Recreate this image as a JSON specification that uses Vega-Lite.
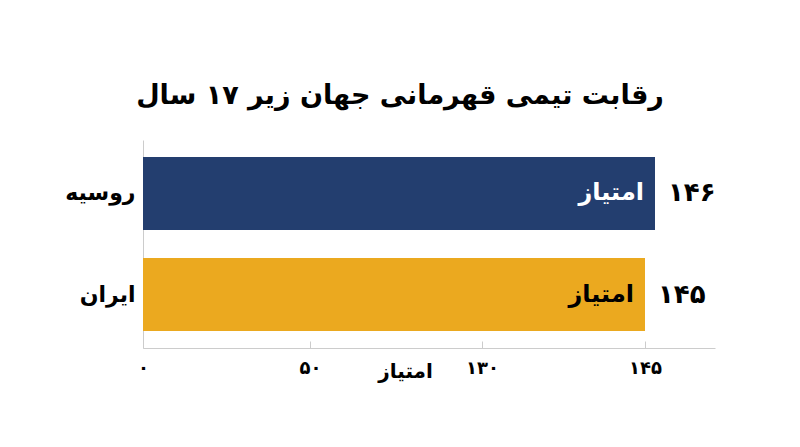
{
  "$schema": "https://vega.github.io/schema/vega-lite/v6.json",
  "description": "Team ranking, U17 world championship",
  "autosize": {"type": "none"},
  "padding": {"left": 143, "top": 140, "right": 85, "bottom": 99},
  "width": 572,
  "height": 208,
  "background": "white",
  "config": {
    "font": "DejaVu Sans",
    "view": {"stroke": null}
  },
  "title": {
    "text": "رقابت تیمی قهرمانی جهان زیر ۱۷ سال",
    "fontSize": 27,
    "fontWeight": "bold",
    "color": "black",
    "anchor": "middle",
    "dx": -29,
    "offset": 3,
    "baseline": "bottom"
  },
  "data": {
    "values": [
      {"country": "روسیه", "points": 146, "label": "۱۴۶"},
      {"country": "ایران", "points": 145, "label": "۱۴۵"}
    ]
  },
  "encoding": {
    "y": {
      "field": "country",
      "type": "nominal",
      "sort": null,
      "scale": {"paddingInner": 0.277, "paddingOuter": 0.168},
      "axis": {
        "title": null,
        "ticks": false,
        "domainColor": "#cccccc",
        "labelFontSize": 22,
        "labelFontWeight": "bold",
        "labelColor": "black",
        "labelPadding": 8
      }
    },
    "x": {
      "field": "points",
      "type": "quantitative",
      "scale": {
        "domain": [0, 50, 130, 145, 146, 151.5],
        "range": [0, 167, 339, 502, 512, 572],
        "nice": false,
        "zero": false
      },
      "axis": {
        "values": [0, 50, 130, 145],
        "grid": false,
        "title": "امتیاز",
        "titleFontSize": 20,
        "titleFontWeight": "bold",
        "titleColor": "black",
        "titleX": 262,
        "titleY": 23,
        "titleAlign": "center",
        "titleBaseline": "middle",
        "domainColor": "#cccccc",
        "tickColor": "#cccccc",
        "tickSize": -7,
        "labelFlush": false,
        "labelFontSize": 18,
        "labelFontWeight": "bold",
        "labelColor": "black",
        "labelPadding": 18,
        "labelExpr": "datum.value == 0 ? '۰' : datum.value == 50 ? '۵۰' : datum.value == 130 ? '۱۳۰' : '۱۴۵'"
      }
    }
  },
  "layer": [
    {
      "mark": {"type": "bar"},
      "encoding": {
        "color": {
          "field": "country",
          "type": "nominal",
          "scale": {"domain": ["روسیه", "ایران"], "range": ["#233e6f", "#eba91f"]},
          "legend": null
        }
      }
    },
    {
      "mark": {
        "type": "text",
        "align": "right",
        "baseline": "middle",
        "dx": -11,
        "fontSize": 24,
        "fontWeight": "bold"
      },
      "encoding": {
        "text": {"value": "امتیاز"},
        "color": {
          "condition": {"test": "datum.country == 'روسیه'", "value": "white"},
          "value": "black"
        }
      }
    },
    {
      "mark": {
        "type": "text",
        "align": "left",
        "baseline": "middle",
        "dx": 13,
        "fontSize": 26,
        "fontWeight": "bold",
        "color": "black"
      },
      "encoding": {
        "text": {"field": "label", "type": "nominal"}
      }
    }
  ]
}
